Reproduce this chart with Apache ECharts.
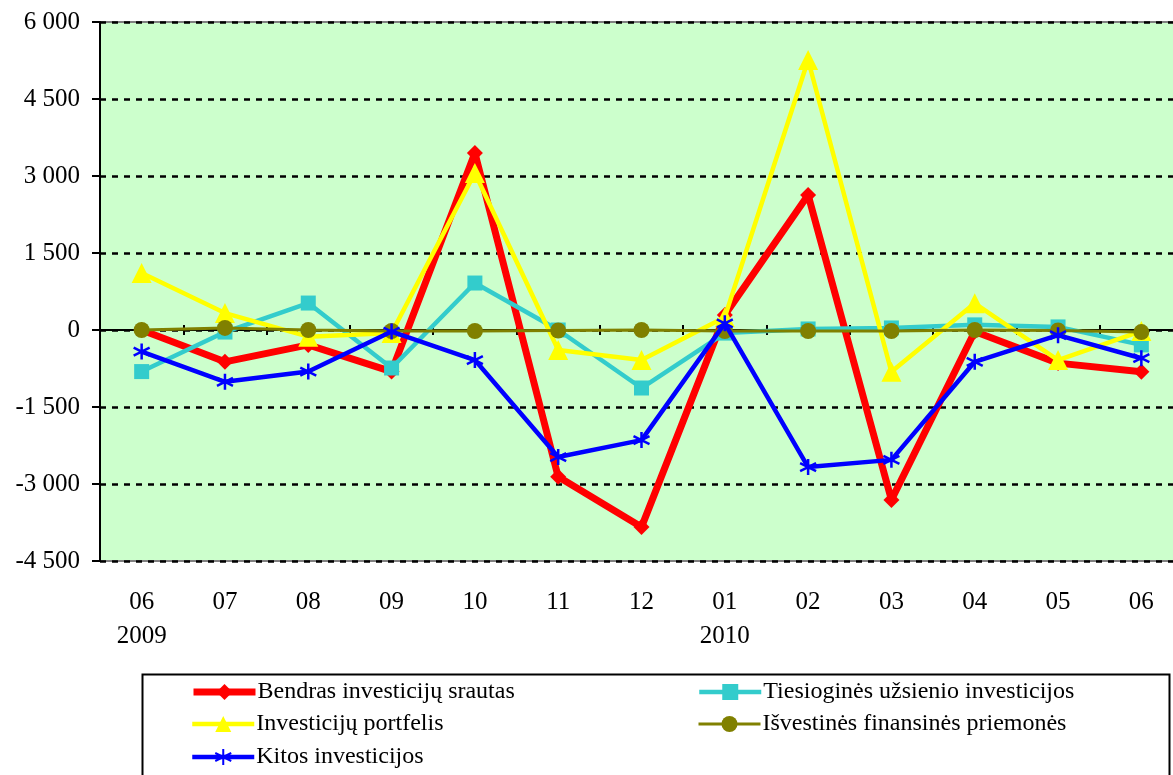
<!DOCTYPE html>
<html>
<head>
<meta charset="utf-8">
<script src="https://cdn.jsdelivr.net/npm/echarts@6/dist/echarts.min.js"></script>
<style>html,body{margin:0;padding:0;background:#fff;}#c{width:1173px;height:775px;}</style>
</head>
<body>
<div id="c"></div>
<script>
const months = ['06','07','08','09','10','11','12','01','02','03','04','05','06'];
const years  = ['2009','','','','','','','2010','','','','',''];
const seriesNames = ['Bendras investicijų srautas','Tiesioginės užsienio investicijos','Investicijų portfelis','Išvestinės finansinės priemonės','Kitos investicijos'];
const bendras     = [0, -620, -290, -810, 3450, -2860, -3840, 290, 2630, -3310, -30, -645, -815];
const tiesiogines = [-810, -40, 525, -740, 915, 0, -1130, -60, 20, 40, 100, 60, -290];
const portfelis   = [1110, 330, -130, -60, 3060, -390, -585, 250, 5260, -815, 520, -585, -20];
const isvestines  = [0, 40, 0, -20, -20, -10, 0, -20, -20, -20, 0, -10, -40];
const kitos       = [-420, -1010, -810, -30, -585, -2475, -2145, 130, -2670, -2530, -620, -100, -550];
const yMin = -4500, yMax = 6000, yStep = 1500;

const FONT = '"Liberation Serif", "Times New Roman", serif';
const catLabels = months.map((m, i) => years[i] ? m + '\n' + years[i] : m);
const fmt = v => {
  const s = Math.abs(v).toString().replace(/\B(?=(\d{3})+(?!\d))/g, ' ');
  return (v < 0 ? '-' : '') + s;
};
const asterisk = 'path://M5,0L5,10M0.67,2.5L9.33,7.5M9.33,2.5L0.67,7.5';
const colors = ['#FF0000', '#33CCCC', '#FFFF00', '#808000', '#0000FF'];
const lineWidths = [7, 4.5, 4.5, 3, 4.5];

// legend placement: [left, centerY]
const legendPos = [[190, 692], [697, 692], [190, 724], [697, 724], [190, 757]];
const legends = seriesNames.map((n, i) => ({
  orient: 'horizontal', left: legendPos[i][0], top: legendPos[i][1] - 13,
  itemWidth: 62, itemHeight: 20, itemGap: 0, padding: 0,
  data: [{name: n, lineStyle: {width: lineWidths[i], color: colors[i]}}],
  textStyle: {color: '#000', fontFamily: FONT, fontSize: 24, lineHeight: 26, padding: [0, 0, 0, -3]}
}));

const chart = echarts.init(document.getElementById('c'), null, {renderer: 'canvas'});
chart.setOption({
  animation: false,
  backgroundColor: '#ffffff',
  grid: {left: 100, top: 22, width: 1083, height: 539, outerBoundsMode: 'none', containLabel: false,
         show: true, backgroundColor: '#CCFFCC', borderColor: '#808080', borderWidth: 2},
  xAxis: [
    {type: 'category', data: catLabels, position: 'bottom', axisLine: {show: false, onZero: false}, axisTick: {show: false},
     axisLabel: {color: '#000', fontFamily: FONT, fontSize: 25, lineHeight: 34, margin: 24, interval: 0}, splitLine: {show: false}},
    {type: 'category', data: catLabels, position: 'top', axisLine: {show: true, onZero: true, onZeroAxisIndex: 0, lineStyle: {color: '#000', width: 2}},
     axisTick: {show: true, length: 5, lineStyle: {color: '#000', width: 2}}, axisLabel: {show: false}, splitLine: {show: false}},
    {type: 'category', data: catLabels, position: 'bottom', axisLine: {show: true, onZero: true, onZeroAxisIndex: 0, lineStyle: {color: '#000', width: 2}},
     axisTick: {show: true, length: 5, lineStyle: {color: '#000', width: 2}}, axisLabel: {show: false}, splitLine: {show: false}}
  ],
  yAxis: {type: 'value', min: yMin, max: yMax, interval: yStep,
    axisLine: {show: true, lineStyle: {color: '#000', width: 2}},
    axisTick: {show: true, length: 8, lineStyle: {color: '#000', width: 2}},
    axisLabel: {color: '#000', fontFamily: FONT, fontSize: 25, margin: 20, formatter: fmt},
    splitLine: {show: true, lineStyle: {color: '#000', width: 2.5, type: [6, 6]}}
  },
  legend: legends,
  graphic: [
    {type: 'rect', left: 140, top: 672, shape: {width: 1027, height: 120}, style: {fill: 'none', stroke: '#000', lineWidth: 2}, z: 100, silent: true}
  ],
  series: [
    {name: seriesNames[0], type: 'line', data: bendras, color: colors[0], symbol: 'diamond', symbolSize: 16,
     lineStyle: {width: lineWidths[0], color: colors[0]}, itemStyle: {color: colors[0]}, z: 2},
    {name: seriesNames[1], type: 'line', data: tiesiogines, color: colors[1], symbol: 'rect', symbolSize: 15,
     lineStyle: {width: lineWidths[1], color: colors[1]}, itemStyle: {color: colors[1]}, z: 3},
    {name: seriesNames[2], type: 'line', data: portfelis, color: colors[2], symbol: 'triangle', symbolSize: 20,
     lineStyle: {width: lineWidths[2], color: colors[2]}, itemStyle: {color: colors[2]}, z: 4},
    {name: seriesNames[3], type: 'line', data: isvestines, color: colors[3], symbol: 'circle', symbolSize: 16,
     lineStyle: {width: lineWidths[3], color: colors[3]}, itemStyle: {color: colors[3]}, z: 5},
    {name: seriesNames[4], type: 'line', data: kitos, color: colors[4], symbol: asterisk, symbolSize: 16,
     lineStyle: {width: lineWidths[4], color: colors[4]}, itemStyle: {color: 'none', borderColor: colors[4], borderWidth: 2.5}, z: 6}
  ]
});
</script>
</body>
</html>
